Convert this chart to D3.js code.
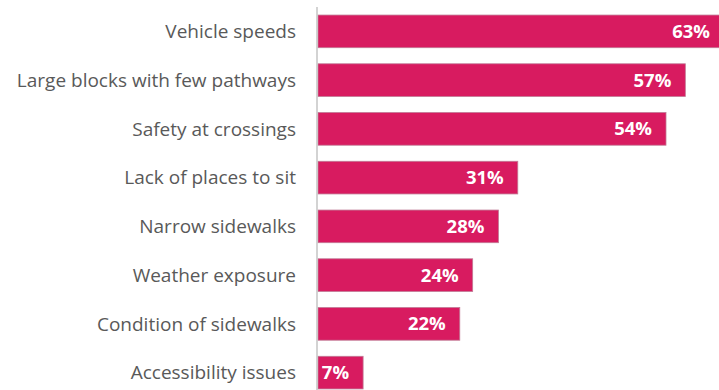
<!DOCTYPE html>
<html>
<head>
<meta charset="utf-8">
<script src="https://cdn.jsdelivr.net/npm/d3@7"></script>
<style>
  html, body { margin: 0; padding: 0; background: #fff; overflow: hidden; }
  svg { display: block; }
</style>
</head>
<body>
<svg id="chart" width="719" height="390"></svg>
<script>
// Barriers to walking, share of respondents
const categories = [
  "Vehicle speeds",
  "Large blocks with few pathways",
  "Safety at crossings",
  "Lack of places to sit",
  "Narrow sidewalks",
  "Weather exposure",
  "Condition of sidewalks",
  "Accessibility issues"
];
const values = [63, 57, 54, 31, 28, 24, 22, 7];
const valueLabels = ["63%", "57%", "54%", "31%", "28%", "24%", "22%", "7%"];

const svg = d3.select("#chart");
const x0 = 318;
const x = d3.scaleLinear().domain([0, 63]).range([x0, 724]);
const y = d3.scaleBand().domain(categories).range([7, 397]).paddingInner(0.33).paddingOuter(0.165);

const data = categories.map((c, i) => ({ c, v: values[i], t: valueLabels[i] }));

// bars
svg.append("g").selectAll("rect").data(data).join("rect")
  .attr("x", x0)
  .attr("y", d => y(d.c))
  .attr("width", d => x(d.v) - x0)
  .attr("height", y.bandwidth())
  .attr("fill", "#d81b60")
  .attr("stroke", "#c07a95")
  .attr("stroke-width", 0.8);

// category axis line
svg.append("line")
  .attr("x1", 317).attr("x2", 317)
  .attr("y1", 7).attr("y2", 390)
  .attr("stroke", "#c4c4c4").attr("stroke-width", 1.5);

// category labels
svg.append("g").selectAll("text").data(data).join("text")
  .attr("x", 296)
  .attr("y", d => y(d.c) + y.bandwidth() / 2)
  .attr("dy", "0.35em")
  .attr("text-anchor", "end")
  .attr("font-family", "'Open Sans', sans-serif")
  .attr("font-size", 19)
  .attr("fill", "#595959")
  .text(d => d.c);

// value labels inside bar ends
svg.append("g").selectAll("text").data(data).join("text")
  .attr("x", d => x(d.v) - 14)
  .attr("y", d => y(d.c) + y.bandwidth() / 2)
  .attr("dy", "0.35em")
  .attr("text-anchor", "end")
  .attr("font-family", "'Open Sans', sans-serif")
  .attr("font-weight", "bold")
  .attr("font-size", 18.5)
  .attr("fill", "#ffffff")
  .text(d => d.t);
</script>
</body>
</html>
